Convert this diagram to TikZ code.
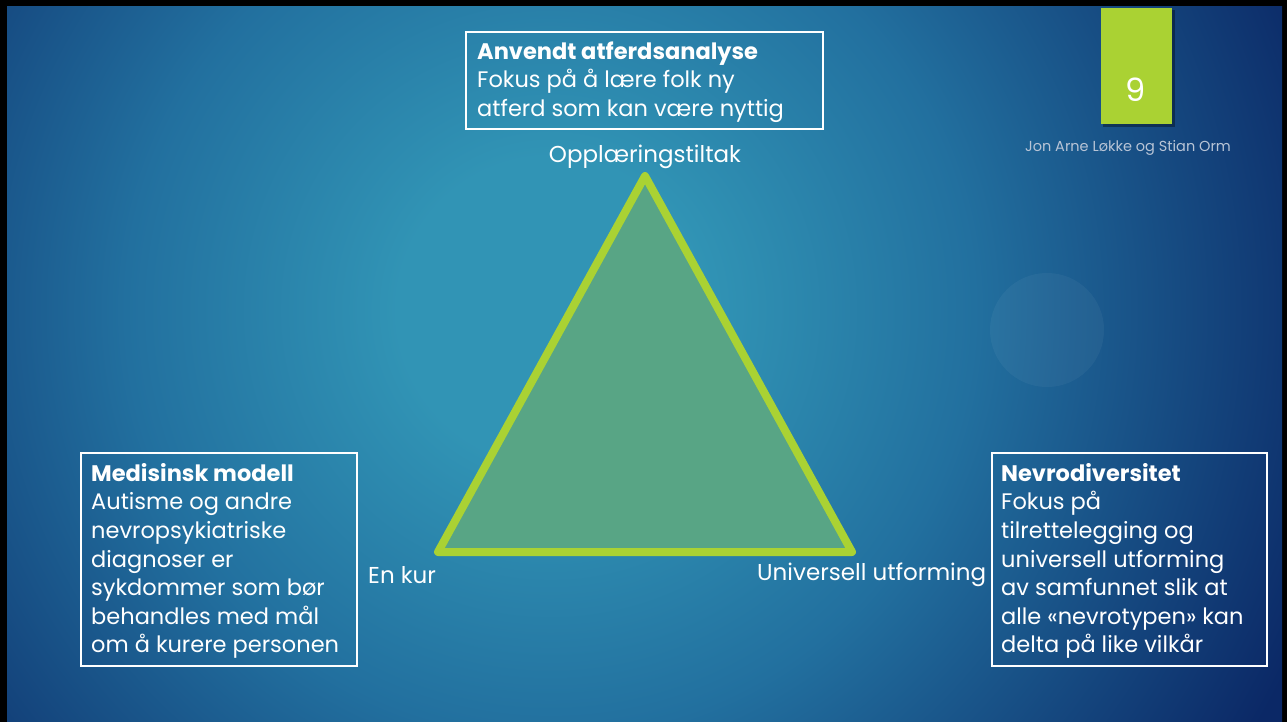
\documentclass[tikz,border=0pt]{standalone}
\usepackage{fontspec}
\setmainfont{Poppins}
\definecolor{limeg}{HTML}{AAD233}
\definecolor{bgC}{HTML}{3194B5}
\definecolor{bgM}{HTML}{22709F}
\definecolor{bgO}{HTML}{0B2866}
\definecolor{trifill}{HTML}{58A585}
\definecolor{authgrey}{HTML}{B8C4D6}
\pgfdeclareradialshading{bgshade}{\pgfpoint{0bp}{0bp}}{color(0bp)=(bgC); color(3.8bp)=(bgC); color(10.6bp)=(bgM); color(20.5bp)=(bgO); color(50bp)=(bgO)}
\tikzset{
  boxtext/.style={text=white, anchor=west, align=left, inner sep=0pt,
    font=\fontsize{22.5}{28.6}\selectfont},
  lbl/.style={text=white, inner sep=0pt, font=\fontsize{23}{27}\selectfont},
}
\begin{document}
\begin{tikzpicture}[x=1pt,y=-1pt]
\useasboundingbox (0,0) rectangle (1287,722);
\fill[black] (0,0) rectangle (1287,722);
\begin{scope}
  \clip (7,7) rectangle (1282,722);
  \shade[shading=bgshade] (550,310) circle (1000pt);
  \fill[white,opacity=0.045] (1047,330) circle (57pt);
\end{scope}

% slide number
\fill[black,opacity=0.35] (1103,10) rectangle (1175,127);
\node[fill=limeg, minimum width=71pt, minimum height=116pt, inner sep=0pt, anchor=north west] (numbox) at (1101,8) {};
\node[text=white, font=\fontsize{32}{36}\selectfont] (num) at (1136,90) {9};
\node[text=authgrey, font=\fontsize{14.5}{17}\selectfont] (author) at (1128,148) {Jon Arne Løkke og Stian Orm};

% triangle
\coordinate (apex) at (645,176);
\coordinate (bl) at (438,552);
\coordinate (br) at (852,552);
\draw[limeg, line width=8pt, line join=round, fill=trifill] (apex) -- (bl) -- (br) -- cycle;

% labels
\node[lbl] (opp) at (645,157) {Opplæringstiltak};
\node[lbl, anchor=west] (kur) at (368,575) {En kur};
\node[lbl, anchor=west] (uni) at (757,575) {Universell utforming};

% boxes
\draw[white, line width=1.1pt] (466,32) rectangle (823,129);
\node[boxtext] (toptext) at (477,82) {\textbf{Anvendt atferdsanalyse}\\Fokus på å lære folk ny\\atferd som kan være nyttig};

\draw[white, line width=1.1pt] (81,453) rectangle (357,666);
\node[boxtext] (lefttext) at (91,561) {\textbf{Medisinsk modell}\\Autisme og andre\\nevropsykiatriske\\diagnoser er\\sykdommer som bør\\behandles med mål\\om å kurere personen};

\draw[white, line width=1.1pt] (992,453) rectangle (1267,666);
\node[boxtext] (righttext) at (1001,561) {\textbf{Nevrodiversitet}\\Fokus på\\tilrettelegging og\\universell utforming\\av samfunnet slik at\\alle «nevrotypen» kan\\delta på like vilkår};
\end{tikzpicture}
\end{document}
